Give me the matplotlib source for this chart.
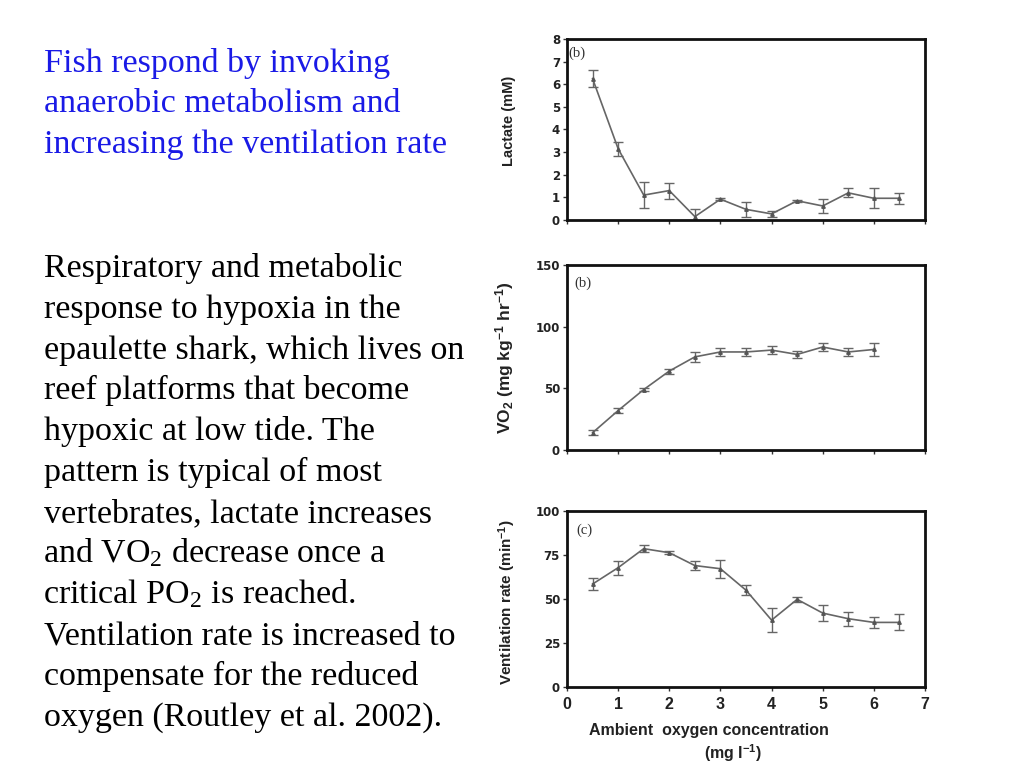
import matplotlib
matplotlib.use("Agg")
import matplotlib.pyplot as plt
import numpy as np

plt.rcParams['mathtext.default'] = 'regular'

# ambient oxygen concentration (mg l-1)
oxygen = [0.5, 1.0, 1.5, 2.0, 2.5, 3.0, 3.5, 4.0, 4.5, 5.0, 5.5, 6.0, 6.5]

lactate = [6.25, 3.15, 1.1, 1.3, 0.15, 0.92, 0.47, 0.27, 0.85, 0.62, 1.2, 0.96, 0.96]
lactate_err = [0.38, 0.3, 0.57, 0.35, 0.35, 0.04, 0.33, 0.12, 0.04, 0.33, 0.2, 0.45, 0.25]

vo2 = [14, 32, 49, 64, 75.5, 79.5, 79.5, 81, 77.5, 83.5, 79.5, 81.5]
vo2_err = [2, 2, 1.5, 2, 4, 3, 3.5, 3, 3, 3, 3, 5]

vent = [58.5, 67.8, 78.6, 76.3, 69, 67.2, 55, 38, 49.8, 42, 38.8, 36.7, 36.7]
vent_err = [3.5, 4, 2, 1, 2.5, 5, 3, 7, 1.5, 4.5, 4, 3, 4.5]

title_lines = ["Fish respond by invoking",
               "anaerobic metabolism and",
               "increasing the ventilation rate"]
body_lines = ["Respiratory and metabolic",
              "response to hypoxia in the",
              "epaulette shark, which lives on",
              "reef platforms that become",
              "hypoxic at low tide. The",
              "pattern is typical of most",
              "vertebrates, lactate increases",
              "and VO$_2$ decrease once a",
              "critical PO$_2$ is reached.",
              "Ventilation rate is increased to",
              "compensate for the reduced",
              "oxygen (Routley et al. 2002)."]

W, H = 1024, 768
fig = plt.figure(figsize=(W / 100, H / 100), dpi=100)
fig.patch.set_facecolor('white')

serif = 'Liberation Serif'
for i, line in enumerate(title_lines):
    fig.text(44 / W, 1 - (72 + 40.5 * i) / H, line, family=serif, fontsize=24.5,
             color='#1a1ae6', va='baseline', ha='left')
for i, line in enumerate(body_lines):
    x0 = 43 if '$' in line else 44
    fig.text(x0 / W, 1 - (277 + 40.8 * i) / H, line, family=serif, fontsize=24.5,
             color='black', va='baseline', ha='left')


def make_axes(top, bottom):
    left, right = 567, 925
    return fig.add_axes([left / W, 1 - bottom / H, (right - left) / W, (bottom - top) / H])


def style(ax, ymax, yticks, panel, ppos, show_x):
    ax.set_xlim(0, 7)
    ax.set_ylim(0, ymax)
    ax.set_yticks(yticks)
    ax.set_xticks(range(0, 8))
    for s in ax.spines.values():
        s.set_linewidth(2)
        s.set_color('#111111')
    ax.tick_params(direction='out', length=3, width=1, color='#333333', pad=2)
    ax.tick_params(axis='x', pad=4)
    for lab in ax.get_yticklabels():
        lab.set_fontweight('bold')
        lab.set_fontsize(8.5)
        lab.set_family('DejaVu Sans')
        lab.set_color('#222222')
    if show_x:
        ax.set_xticklabels([str(v) for v in range(8)], fontsize=11.5,
                           fontweight='bold', family='Liberation Sans', color='#222222')
    else:
        ax.set_xticklabels([])
    ax.text(ppos[0], ppos[1], panel, transform=ax.transAxes, family=serif,
            fontsize=10.5, va='center', ha='left', color='#333333')


def draw(ax, x, y, err):
    ax.errorbar(x, y, yerr=err, color='#666666', lw=1.2, elinewidth=1, capsize=3.5,
                capthick=1, marker='^', ms=2.5, mfc='#555555', mec='#555555')


def ylabel(ax, text, size, xpix, ycoord=0.5):
    ax.set_ylabel(text, fontsize=size, fontweight='bold', family='Liberation Sans',
                  color='#222222')
    ax.yaxis.set_label_coords((xpix - 567) / 358, ycoord)


ax1 = make_axes(39, 220)
draw(ax1, oxygen, lactate, lactate_err)
style(ax1, 8, range(0, 9), '(b)', (0.005, 0.92), False)
ylabel(ax1, 'Lactate (mM)', 10.5, 516, 0.545)

ax2 = make_axes(265, 450)
draw(ax2, oxygen[:len(vo2)], vo2, vo2_err)
style(ax2, 150, [0, 50, 100, 150], '(b)', (0.02, 0.9), False)
ylabel(ax2, 'VO$_2$ (mg kg$^{-1}$ hr$^{-1}$)', 12.5, 516)

ax3 = make_axes(511, 687)
draw(ax3, oxygen, vent, vent_err)
style(ax3, 100, [0, 25, 50, 75, 100], '(c)', (0.025, 0.89), True)
ylabel(ax3, 'Ventilation rate (min$^{-1}$)', 11, 518, 0.48)

fig.text(709 / W, 1 - 730 / H, 'Ambient  oxygen concentration', fontsize=11.5,
         fontweight='bold', family='Liberation Sans', ha='center', va='center',
         color='#222222')
fig.text(733 / W, 1 - 753 / H, '(mg l$^{-1}$)', fontsize=11.5,
         fontweight='bold', family='Liberation Sans', ha='center', va='center',
         color='#222222')

fig.savefig('out.png', dpi=100, facecolor='white')
